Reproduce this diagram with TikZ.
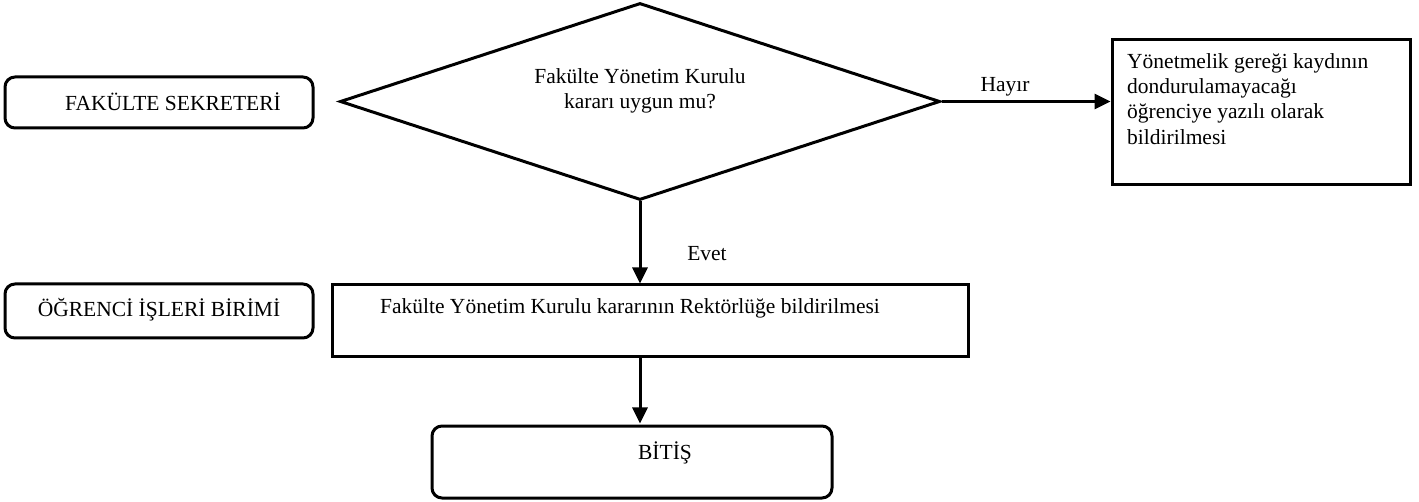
\documentclass[tikz,border=0pt]{standalone}
\usepackage{fontspec}
\setmainfont{Liberation Serif}
\usetikzlibrary{shapes.geometric,arrows.meta,calc}
\begin{document}
\begin{tikzpicture}[x=1pt,y=-1pt,
  every node/.style={font=\fontsize{21.5}{25.3}\selectfont, inner sep=0pt},
  rbox/.style={draw, line width=3pt, rounded corners=10pt},
  sbox/.style={draw, line width=3pt},
  conn/.style={line width=3pt, -{Triangle[length=16pt,width=15pt]}},
  txt/.style={align=center}
]
\useasboundingbox (0,0) rectangle (1419,502);
% lane labels
\node[rbox, minimum width=308pt, minimum height=51pt] (fs) at (159,102.5) {};
\node (fst) at (173,102) {FAKÜLTE SEKRETERİ};
\node[rbox, minimum width=308pt, minimum height=54pt] (oi) at (159,311) {};
\node (oit) at (159,310) {ÖĞRENCİ İŞLERİ BİRİMİ};
% decision
\node[diamond, draw, line width=3pt, minimum width=600pt, minimum height=197pt] (dec) at (640,101.5) {};
\node[txt] (dect) at (640,91) {Fakülte Yönetim Kurulu\\kararı uygun mu?};
% right box
\node[sbox, minimum width=298pt, minimum height=145pt] (rb) at (1261,112.5) {};
\node[align=left, anchor=north west] (rbt) at (1127,53) {Yönetmelik gereği kaydının\\dondurulamayacağı\\öğrenciye yazılı olarak\\bildirilmesi};
% middle box
\node[sbox, minimum width=636pt, minimum height=72pt] (mb) at (650,321) {};
\node (mbt) at (630,308) {Fakülte Yönetim Kurulu kararının Rektörlüğe bildirilmesi};
% end
\node[rbox, minimum width=400pt, minimum height=72pt] (end) at (632,462) {};
\node (endt) at (665,453) {BİTİŞ};
% connectors
\draw[conn] (dec.east) -- (dec.east -| rb.west);
\node (hayir) at (1005,87) {Hayır};
\draw[conn] (dec.south) -- (dec.south |- mb.north);
\node (evet) at (707,254) {Evet};
\draw[conn] (dec.south |- mb.south) -- ($(dec.south |- end.north)+(0,-1)$);
\end{tikzpicture}
\end{document}
